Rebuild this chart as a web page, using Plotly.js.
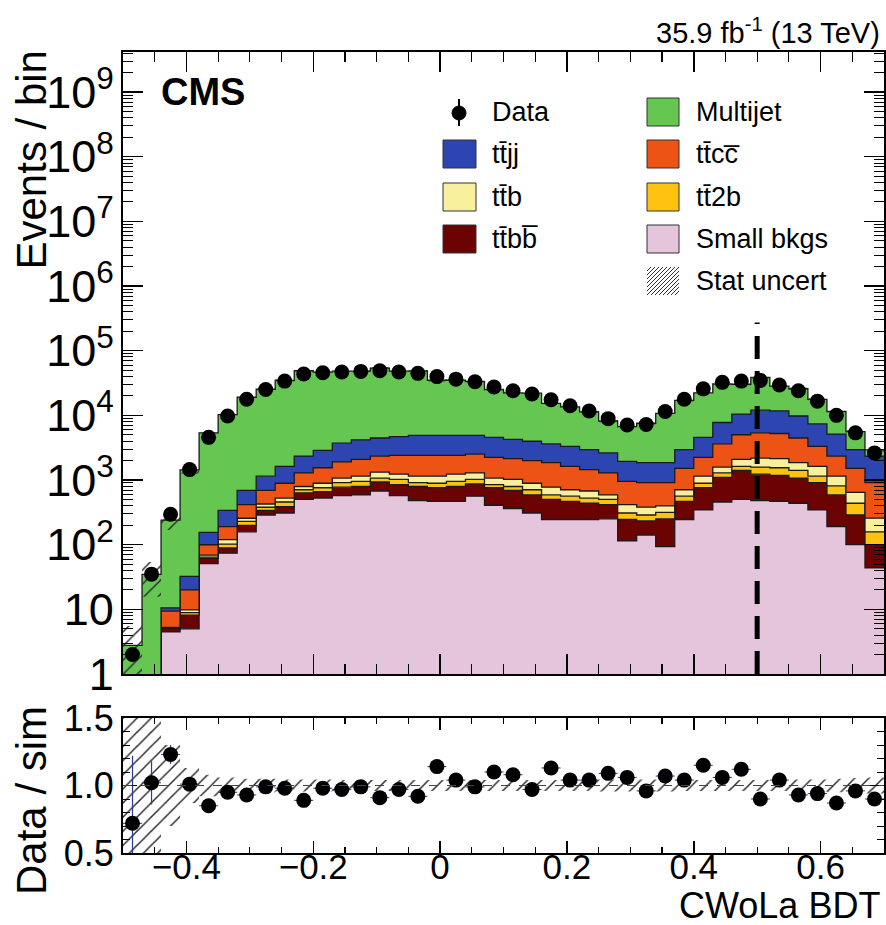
<!DOCTYPE html>
<html><head><meta charset="utf-8">
<script src="https://cdn.plot.ly/plotly-3.0.1.min.js"></script>
<style>html,body{margin:0;padding:0;background:#fff}</style>
</head><body><div id="chart" style="width:886px;height:925px"></div>
<script>
// ---------------- data ----------------
const binLow = -0.5, binWidth = 0.03, nBins = 40;
const cutValue = 0.5;

const dataCounts = [2, 35, 295, 1450, 4570, 9770, 17800, 25100, 33900, 43700, 45700, 46800, 47900, 49000, 46800, 44700, 39800, 36300, 33100, 27500, 24000, 21400, 17400, 14100, 11700, 8900, 7080, 7240, 11500, 17800, 25700, 32400, 33900, 34700, 29500, 24000, 16600, 10000, 5370, 2630];

const smallBkgs = [0, 0, 4.5, 5.0, 51, 74, 158, 288, 309, 501, 525, 575, 589, 676, 575, 479, 468, 468, 562, 407, 363, 309, 245, 245, 245, 251, 115, 141, 93, 245, 347, 457, 501, 479, 468, 437, 347, 191, 100, 44];
const ttbb = [0, 0, 0.54, 3.1, 10.4, 15, 41, 50, 80, 130, 136, 201, 205, 257, 276, 315, 291, 326, 309, 352, 329, 280, 256, 223, 192, 166, 130, 93, 158, 223, 412, 639, 912, 751, 707, 635, 565, 398, 188, 56];
const tt2b = [0, 0, 0.12, 0.8, 2.9, 13.2, 29.6, 41.4, 68, 77, 98, 136, 161, 140, 172, 118, 132, 161, 152, 92, 102, 119, 88, 94, 88, 84, 64, 54, 65, 94, 132, 192, 209, 355, 374, 341, 236, 224, 149, 58];
const ttb = [0, 0, 0.12, 0.9, 4.6, 17.9, 27.9, 46.4, 68, 86, 132, 160, 193, 250, 207, 236, 257, 275, 265, 221, 229, 183, 187, 146, 151, 88, 108, 92, 82, 146, 257, 297, 467, 603, 589, 449, 474, 335, 209, 99];
const ttcc = [0, 0, 4.08, 10.2, 30.8, 70.3, 160, 265, 366, 494, 658, 833, 941, 1021, 1169, 1251, 1251, 1169, 1224, 1167, 1115, 1104, 1086, 914, 769, 699, 538, 532, 514, 806, 1091, 2046, 2923, 3182, 3110, 2605, 1689, 1196, 868, 655];
const ttjj = [0, 0, 1.14, 12.4, 54.9, 148, 275, 456, 731, 1056, 1335, 1810, 2080, 2123, 2278, 2499, 2499, 2499, 2386, 2332, 2128, 1986, 1769, 1689, 1506, 1342, 995, 950, 950, 1437, 2332, 4131, 5458, 6650, 6502, 5305, 4102, 2785, 1437, 1432];
const multijet = [2.77, 34.8, 229.5, 1400, 5215, 9940, 18360, 24200, 32980, 46640, 43790, 44490, 44140, 49360, 43520, 43630, 30010, 30010, 28520, 20550, 17960, 18050, 11750, 10270, 8350, 5555, 4733, 5689, 8858, 14150, 17770, 22790, 19800, 26530, 16630, 16050, 10250, 6351, 2647, 580];

const ratio = [0.72, 1.02, 1.23, 1.01, 0.85, 0.95, 0.93, 0.99, 0.98, 0.89, 0.98, 0.97, 0.99, 0.91, 0.97, 0.92, 1.14, 1.04, 0.99, 1.10, 1.08, 0.97, 1.13, 1.04, 1.04, 1.09, 1.06, 0.96, 1.07, 1.04, 1.15, 1.06, 1.12, 0.90, 1.04, 0.93, 0.94, 0.87, 0.96, 0.90];
const ratioErr = [0.5, 0.16, 0.07, 0.03, 0.02, 0.012, 0.01, 0.01, 0.01, 0.01, 0.01, 0.01, 0.01, 0.01, 0.01, 0.01, 0.01, 0.01, 0.01, 0.01, 0.01, 0.01, 0.01, 0.01, 0.01, 0.01, 0.012, 0.012, 0.01, 0.01, 0.01, 0.01, 0.01, 0.01, 0.01, 0.01, 0.01, 0.012, 0.015, 0.02];
const statErr = [1.0, 0.55, 0.3, 0.13, 0.08, 0.06, 0.05, 0.05, 0.045, 0.045, 0.045, 0.04, 0.04, 0.04, 0.04, 0.04, 0.04, 0.04, 0.04, 0.04, 0.04, 0.04, 0.04, 0.04, 0.04, 0.045, 0.045, 0.045, 0.045, 0.04, 0.04, 0.04, 0.04, 0.04, 0.04, 0.045, 0.045, 0.05, 0.055, 0.06];

const stackNames = ['Small bkgs', 'tt\u0304bb\u0305', 'tt\u03042b', 'tt\u0304b', 'tt\u0304cc\u0305', 'tt\u0304jj', 'Multijet'];
// ---------------- styling ----------------
const FONT = 'Liberation Sans, Arial, Helvetica, sans-serif';
const colSmall = '#e4c5dc', colTtbb = '#6b0303', colTt2b = '#ffc210', colTtb = '#f8f09c',
      colTtcc = '#ec5314', colTtjj = '#2c45b0', colMulti = '#65c752';
const stackComps = [smallBkgs, ttbb, tt2b, ttb, ttcc, ttjj, multijet];
const stackColors = [colSmall, colTtbb, colTt2b, colTtb, colTtcc, colTtjj, colMulti];
const FLOOR = 1e-3;

const edges = Array.from({length: nBins + 1}, (_, i) => +(binLow + i * binWidth).toFixed(4));
const centers = Array.from({length: nBins}, (_, i) => +(binLow + (i + 0.5) * binWidth).toFixed(4));
const stepY = a => a.concat([a[a.length - 1]]);

const traces = [];
let cum = new Array(nBins).fill(0);
stackComps.forEach((comp, k) => {
  cum = cum.map((v, i) => v + comp[i]);
  traces.push({
    type: 'scatter', mode: 'lines', x: edges, y: stepY(cum.map(v => Math.max(v, FLOOR))),
    line: {shape: 'hv', color: '#1a1a1a', width: 1.3},
    fill: k === 0 ? 'tozeroy' : 'tonexty', fillcolor: stackColors[k],
    xaxis: 'x', yaxis: 'y', showlegend: false, hoverinfo: 'skip'
  });
});
const total = cum.slice();
// stat band main
traces.push({type: 'scatter', mode: 'lines', x: edges, y: stepY(total.map((v, i) => Math.max(v * (1 - statErr[i]), FLOOR))),
  line: {shape: 'hv', width: 0, color: 'rgba(0,0,0,0)'}, xaxis: 'x', yaxis: 'y', showlegend: false, hoverinfo: 'skip'});
traces.push({type: 'scatter', mode: 'lines', x: edges, y: stepY(total.map((v, i) => v * (1 + statErr[i]))),
  line: {shape: 'hv', width: 0, color: 'rgba(0,0,0,0)'}, fill: 'tonexty', fillcolor: 'rgba(0,0,0,0)',
  fillpattern: {shape: '/', fgcolor: '#2a2a2a', bgcolor: 'rgba(0,0,0,0)', size: 10, solidity: 0.15},
  xaxis: 'x', yaxis: 'y', showlegend: false, hoverinfo: 'skip'});
// data points
traces.push({type: 'scatter', mode: 'markers', x: centers, y: dataCounts,
  marker: {color: 'black', size: 15}, xaxis: 'x', yaxis: 'y', showlegend: false});

// ratio band
traces.push({type: 'scatter', mode: 'lines', x: edges, y: stepY(statErr.map(e => 1 - e)),
  line: {shape: 'hv', width: 0, color: 'rgba(0,0,0,0)'}, xaxis: 'x2', yaxis: 'y2', showlegend: false, hoverinfo: 'skip'});
traces.push({type: 'scatter', mode: 'lines', x: edges, y: stepY(statErr.map(e => 1 + e)),
  line: {shape: 'hv', width: 0, color: 'rgba(0,0,0,0)'}, fill: 'tonexty', fillcolor: 'rgba(0,0,0,0)',
  fillpattern: {shape: '/', fgcolor: '#2a2a2a', bgcolor: 'rgba(0,0,0,0)', size: 10, solidity: 0.15},
  xaxis: 'x2', yaxis: 'y2', showlegend: false, hoverinfo: 'skip'});
traces.push({type: 'scatter', mode: 'markers', x: centers, y: ratio,
  error_y: {type: 'data', array: ratioErr, color: '#2b3a9a', thickness: 1.2, width: 0},
  error_x: {type: 'constant', value: binWidth / 2, color: '#2b3a9a', thickness: 1, width: 0},
  marker: {color: 'black', size: 15}, xaxis: 'x2', yaxis: 'y2', showlegend: false});

// ---------------- layout helpers ----------------
const L = 123, R = 884, T = 52, B = 853;
const fx = px => (px - L) / (R - L);
const fy = py => (B - py) / (B - T);

const annotations = [
  {text: 'CMS', x: fx(159), y: fy(92), xanchor: 'left', yanchor: 'middle', font: {family: FONT, size: 38, color: 'black', weight: 'bold'}},
  {text: '35.9 fb<sup>-1</sup> (13 TeV)', x: fx(882), y: fy(31), xanchor: 'right', yanchor: 'middle', font: {family: FONT, size: 29, color: 'black'}},
  {text: 'Events / bin', x: fx(31), y: fy(49), xanchor: 'center', yanchor: 'top', textangle: -90, font: {family: FONT, size: 42, color: 'black'}},
  {text: 'Data / sim', x: fx(31), y: fy(801), xanchor: 'center', yanchor: 'middle', textangle: -90, font: {family: FONT, size: 42, color: 'black'}},
  {text: 'CWoLa BDT', x: fx(882), y: fy(905), xanchor: 'right', yanchor: 'middle', font: {family: FONT, size: 36, color: 'black'}}
];
annotations.forEach(a => { a.xref = 'paper'; a.yref = 'paper'; a.showarrow = false; });

const shapes = [];
// cut line
shapes.push({type: 'line', xref: 'x', yref: 'y domain', x0: cutValue, x1: cutValue, y0: 0, y1: 0.565,
  line: {color: 'black', width: 5, dash: '23px,12px'}});
// ratio reference line
shapes.push({type: 'line', xref: 'x2 domain', yref: 'y2', x0: 0, x1: 1, y0: 1, y1: 1,
  line: {color: '#444', width: 1, dash: 'dash'}});

// ---------------- manual two-column legend ----------------
const legFont = {family: FONT, size: 27, color: 'black'};
const rowsY = [112, 154, 197, 239, 281];
const colLx = [443, 476], colRx = [647, 679];
function swatch(xs, yc, color) {
  shapes.push({type: 'rect', xref: 'paper', yref: 'paper', x0: fx(xs[0]), x1: fx(xs[1]), y0: fy(yc + 14), y1: fy(yc - 14),
    fillcolor: color, line: {color: '#333', width: 1}});
}
function legText(x, yc, text) {
  annotations.push({xref: 'paper', yref: 'paper', x: fx(x), y: fy(yc), xanchor: 'left', yanchor: 'middle', showarrow: false, text: text, font: legFont});
}
// Data entry
shapes.push({type: 'line', xref: 'paper', yref: 'paper', x0: fx(459), x1: fx(459), y0: fy(99), y1: fy(126), line: {color: 'black', width: 2}});
shapes.push({type: 'circle', xref: 'paper', yref: 'paper', x0: fx(452), x1: fx(466), y0: fy(120), y1: fy(106), fillcolor: 'black', line: {color: 'black', width: 1}});
legText(490, rowsY[0], 'Data');
swatch(colLx, rowsY[1], colTtjj); legText(490, rowsY[1], stackNames[5]);
swatch(colLx, rowsY[2], colTtb); legText(490, rowsY[2], stackNames[3]);
swatch(colLx, rowsY[3], colTtbb); legText(490, rowsY[3], stackNames[1]);
swatch(colRx, rowsY[0], colMulti); legText(694, rowsY[0], stackNames[6]);
swatch(colRx, rowsY[1], colTtcc); legText(694, rowsY[1], stackNames[4]);
swatch(colRx, rowsY[2], colTt2b); legText(694, rowsY[2], stackNames[2]);
swatch(colRx, rowsY[3], colSmall); legText(694, rowsY[3], stackNames[0]);
// hatched swatch
(function () {
  const x0 = colRx[0], x1 = colRx[1], yt = rowsY[4] - 14, yb = rowsY[4] + 14, h = yb - yt;
  for (let d = -h; d < (x1 - x0); d += 4) {
    let sx = x0 + d, sy = yb, ex = x0 + d + h, ey = yt;
    if (sx < x0) { sy = yb - (x0 - sx); sx = x0; }
    if (ex > x1) { ey = yt + (ex - x1); ex = x1; }
    shapes.push({type: 'line', xref: 'paper', yref: 'paper', x0: fx(sx), x1: fx(ex), y0: fy(sy), y1: fy(ey), line: {color: '#333', width: 1}});
  }
})();
legText(694, rowsY[4], 'Stat uncert');

const axBase = {showline: true, linecolor: 'black', linewidth: 2, mirror: 'ticks', ticks: 'inside',
  tickcolor: 'black', tickwidth: 1.5, showgrid: false, zeroline: false,
  tickfont: {family: FONT, size: 36, color: 'black'}};

const layout = {
  width: 886, height: 925, paper_bgcolor: 'white', plot_bgcolor: 'white',
  margin: {l: L, r: 886 - R, t: T, b: 925 - B, pad: 0},
  showlegend: false,
  xaxis: Object.assign({}, axBase, {domain: [0, 1], anchor: 'y', range: [-0.5, 0.7], dtick: 0.2, tick0: 0, ticklen: 20,
    showticklabels: false, minor: {dtick: 0.05, tick0: 0, ticklen: 10, ticks: 'inside', tickcolor: 'black', tickwidth: 1.2}}),
  yaxis: Object.assign({}, axBase, {domain: [fy(674), 1], anchor: 'x', type: 'log', range: [0, 9.62], dtick: 1,
    exponentformat: 'power', ticklen: 20, minor: {dtick: 'D1', ticklen: 10, ticks: 'inside', tickcolor: 'black', tickwidth: 1}}),
  xaxis2: Object.assign({}, axBase, {domain: [0, 1], anchor: 'y2', range: [-0.5, 0.7], dtick: 0.2, tick0: 0, ticklen: 12,
    ticklabelstandoff: -18, tickfont: {family: FONT, size: 35, color: 'black'},
    minor: {dtick: 0.05, tick0: 0, ticklen: 6, ticks: 'inside', tickcolor: 'black', tickwidth: 1.2}}),
  yaxis2: Object.assign({}, axBase, {domain: [0, fy(718)], anchor: 'x2', range: [0.5, 1.5], tickvals: [0.5, 1.0, 1.5],
    tickformat: '.1f', ticklen: 14, minor: {dtick: 0.1, ticklen: 7, ticks: 'inside', tickcolor: 'black', tickwidth: 1}}),
  annotations: annotations,
  shapes: shapes
};

Plotly.newPlot('chart', traces, layout, {staticPlot: true, displayModeBar: false});
</script>
</body></html>
